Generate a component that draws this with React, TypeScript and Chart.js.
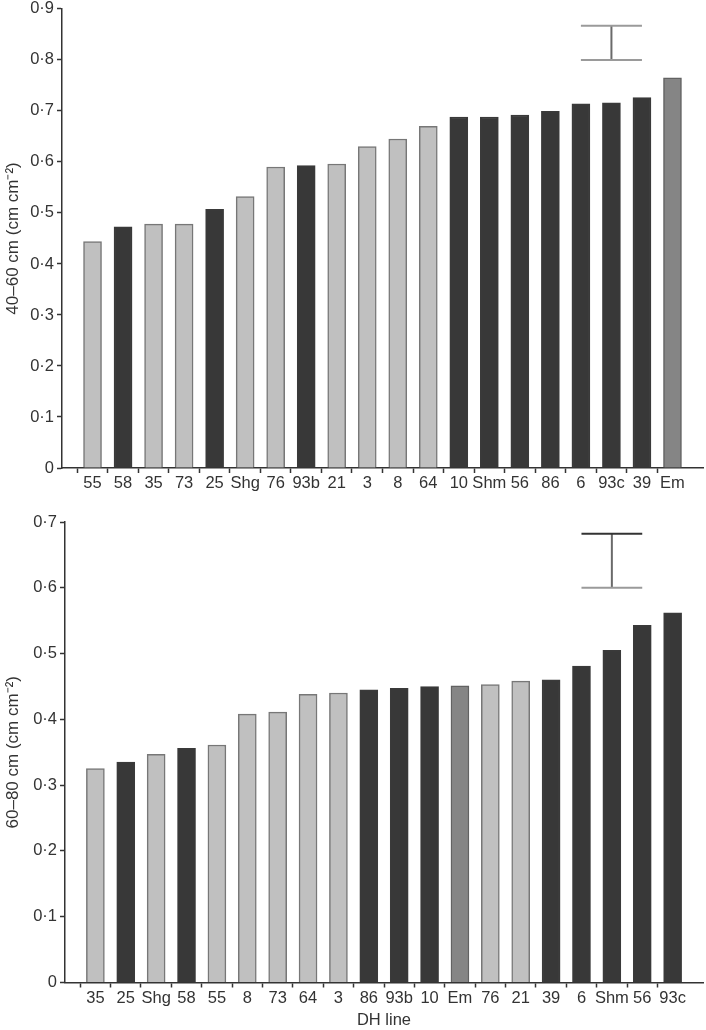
import React, { useEffect, useRef } from 'react';
import { Chart, registerables } from 'chart.js';

Chart.register(...registerables);

const topCategories = ['55', '58', '35', '73', '25', 'Shg', '76', '93b', '21', '3', '8', '64', '10', 'Shm', '56', '86', '6', '93c', '39', 'Em'];
const topValues = [0.444, 0.473, 0.478, 0.478, 0.507, 0.532, 0.590, 0.593, 0.596, 0.630, 0.645, 0.670, 0.688, 0.688, 0.692, 0.699, 0.714, 0.716, 0.726, 0.765];
const topGroups = ['L', 'D', 'L', 'L', 'D', 'L', 'L', 'D', 'L', 'L', 'L', 'L', 'D', 'D', 'D', 'D', 'D', 'D', 'D', 'M'];
const topLsd = [0.8, 0.867];
const topLsdAt = '93c';
const topYTicks = [0, 0.1, 0.2, 0.3, 0.4, 0.5, 0.6, 0.7, 0.8, 0.9];

const bottomCategories = ['35', '25', 'Shg', '58', '55', '8', '73', '64', '3', '86', '93b', '10', 'Em', '76', '21', '39', '6', 'Shm', '56', '93c'];
const bottomValues = [0.325, 0.335, 0.347, 0.356, 0.361, 0.408, 0.411, 0.438, 0.44, 0.445, 0.447, 0.45, 0.451, 0.453, 0.458, 0.46, 0.481, 0.505, 0.543, 0.562];
const bottomGroups = ['L', 'D', 'L', 'D', 'L', 'L', 'L', 'L', 'L', 'D', 'D', 'D', 'M', 'L', 'L', 'D', 'D', 'D', 'D', 'D'];
const bottomLsd = [0.6, 0.682];
const bottomLsdAt = 'Shm';
const bottomYTicks = [0, 0.1, 0.2, 0.3, 0.4, 0.5, 0.6, 0.7];

const FILL: Record<string, string> = { L: '#c0c0c0', D: '#383838', M: '#858585' };
const EDGE: Record<string, string> = { L: '#777777', D: '#3a3a3a', M: '#626262' };
const AXIS = '#333333';

Chart.defaults.font.family = '"Liberation Sans", Arial, Helvetica, sans-serif';
Chart.defaults.font.size = 16.5;
Chart.defaults.color = '#333333';

const lsdPlugin = {
  id: 'lsd',
  afterDatasetsDraw(chart: any, _args: any, opts: any) {
    if (!opts || !opts.range) return;
    const xs = chart.scales.x;
    const ys = chart.scales.y;
    const labels: string[] = chart.data.labels;
    const i = labels.indexOf(opts.at);
    const cx = xs.getPixelForValue(i);
    const half = xs.getPixelForValue(i + 1) - cx;
    const yLo = ys.getPixelForValue(opts.range[0]);
    const yHi = ys.getPixelForValue(opts.range[1]);
    const ctx = chart.ctx;
    ctx.save();
    ctx.lineWidth = 2;
    ctx.strokeStyle = opts.stemColor;
    ctx.beginPath();
    ctx.moveTo(cx, yLo);
    ctx.lineTo(cx, yHi);
    ctx.stroke();
    ctx.strokeStyle = opts.topColor;
    ctx.beginPath();
    ctx.moveTo(cx - half, yHi);
    ctx.lineTo(cx + half, yHi);
    ctx.stroke();
    ctx.strokeStyle = opts.bottomColor;
    ctx.beginPath();
    ctx.moveTo(cx - half, yLo);
    ctx.lineTo(cx + half, yLo);
    ctx.stroke();
    ctx.restore();
  },
};

const fmt = (v: number) => (v === 0 ? '0' : v.toFixed(1).replace('.', '·'));

type Props = {
  categories: string[];
  values: number[];
  groups: string[];
  lsd: number[];
  lsdAt: string;
  yTicks: number[];
  yTitle: string;
  xTitle?: string;
  yAxisWidth: number;
  xAxisHeight: number;
  padTop: number;
  top: number;
  height: number;
  lsdColors: { top: string; bottom: string; stem: string };
};

function BarPanel(p: Props) {
  const ref = useRef<HTMLCanvasElement | null>(null);
  useEffect(() => {
    if (!ref.current) return;
    const labels = ['', ...p.categories, ''];
    const data = [null, ...p.values, null];
    const fills = ['#fff', ...p.groups.map((g) => FILL[g]), '#fff'];
    const edges = ['#fff', ...p.groups.map((g) => EDGE[g]), '#fff'];
    const last = labels.length - 1;
    const chart = new Chart(ref.current, {
      type: 'bar',
      data: {
        labels,
        datasets: [
          {
            data: data as any,
            backgroundColor: fills,
            borderColor: edges,
            borderWidth: 1.5,
            barThickness: 18,
          },
        ],
      },
      plugins: [lsdPlugin as any],
      options: {
        responsive: false,
        animation: false,
        layout: { padding: { top: p.padTop, right: 3, left: 0, bottom: 0 } },
        plugins: {
          legend: { display: false },
          tooltip: { enabled: false },
          lsd: {
            range: p.lsd,
            at: p.lsdAt,
            topColor: p.lsdColors.top,
            bottomColor: p.lsdColors.bottom,
            stemColor: p.lsdColors.stem,
          },
        } as any,
        scales: {
          x: {
            type: 'category',
            offset: false,
            grid: {
              drawOnChartArea: false,
              drawTicks: true,
              tickLength: 5,
              tickWidth: 1.5,
              tickColor: (c: any) => (c.index === 0 || c.index === last ? 'rgba(0,0,0,0)' : AXIS),
            },
            border: { color: AXIS, width: 1.5 },
            ticks: { autoSkip: false, maxRotation: 0, minRotation: 0, padding: 1, color: '#333' },
            title: p.xTitle
              ? { display: true, text: p.xTitle, color: '#333', padding: { top: 0, bottom: 0 }, font: { size: 16.5 } }
              : { display: false },
            afterFit: (s: any) => {
              s.height = p.xAxisHeight;
            },
          },
          y: {
            min: 0,
            max: p.yTicks[p.yTicks.length - 1],
            afterBuildTicks: (s: any) => {
              s.ticks = p.yTicks.map((v) => ({ value: v }));
            },
            grid: { drawOnChartArea: false, drawTicks: true, tickLength: 5, tickWidth: 1.5, tickColor: AXIS },
            border: { color: AXIS, width: 1.5 },
            ticks: { padding: 3, color: '#333', callback: (v: any) => fmt(Number(v)) },
            title: { display: true, text: p.yTitle, color: '#333', padding: { top: 3, bottom: 0 }, font: { size: 17 } },
            afterFit: (s: any) => {
              s.width = p.yAxisWidth;
            },
          },
        },
      },
    });
    return () => chart.destroy();
  }, []);
  return (
    <div style={{ position: 'absolute', left: 0, top: p.top, width: 706, height: p.height }}>
      <canvas ref={ref} width={706} height={p.height} style={{ display: 'block', width: 706, height: p.height }} />
    </div>
  );
}

export default function App() {
  return (
    <div style={{ position: 'absolute', left: 0, top: 0, width: 706, height: 1030, background: '#fff', overflow: 'hidden' }}>
      <BarPanel
        categories={topCategories}
        values={topValues}
        groups={topGroups}
        lsd={topLsd}
        lsdAt={topLsdAt}
        yTicks={topYTicks}
        yTitle="40–60 cm (cm cm⁻²)"
        yAxisWidth={62}
        xAxisHeight={32}
        padTop={0}
        top={-4}
        height={504}
        lsdColors={{ top: '#9a9a9a', bottom: '#9a9a9a', stem: '#6a6a6a' }}
      />
      <BarPanel
        categories={bottomCategories}
        values={bottomValues}
        groups={bottomGroups}
        lsd={bottomLsd}
        lsdAt={bottomLsdAt}
        yTicks={bottomYTicks}
        yTitle="60–80 cm (cm cm⁻²)"
        xTitle="DH line"
        yAxisWidth={65}
        xAxisHeight={47.5}
        padTop={22}
        top={500}
        height={530}
        lsdColors={{ top: '#333333', bottom: '#9a9a9a', stem: '#6a6a6a' }}
      />
    </div>
  );
}
